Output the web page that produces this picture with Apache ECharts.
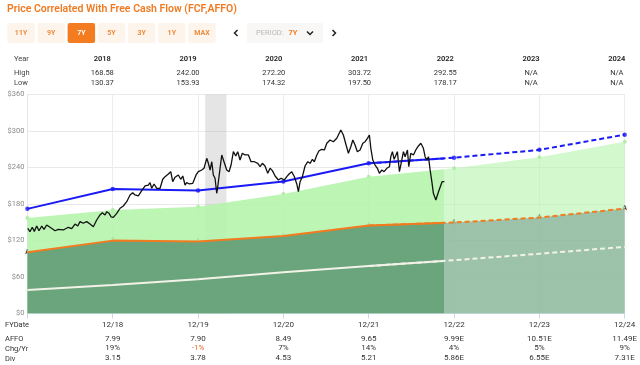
<!DOCTYPE html>
<html><head><meta charset="utf-8">
<script src="https://cdn.jsdelivr.net/npm/echarts@6/dist/echarts.min.js"></script>
<style>html,body{margin:0;padding:0;background:#fff}#c{width:640px;height:365px}</style>
</head><body><div id="c"></div>
<script>
// ---- data ----
// x position in years after FY end 12/17
const fyT = [0, 1, 2, 3, 4, 5, 6, 7];
const fyLabels = ['', '12/18', '12/19', '12/20', '12/21', '12/22', '12/23', '12/24'];
const affoLabels = ['', '7.99', '7.90', '8.49', '9.65', '9.99E', '10.51E', '11.49E'];
const chgLabels = ['', '19%', '-1%', '7%', '14%', '4%', '5%', '9%'];
const divLabels = ['', '3.15', '3.78', '4.53', '5.21', '5.86E', '6.55E', '7.31E'];
const tableYears = ['2018', '2019', '2020', '2021', '2022', '2023', '2024'];
const tableHigh = ['168.58', '242.00', '272.20', '303.72', '292.55', 'N/A', 'N/A'];
const tableLow = ['130.37', '153.93', '174.32', '197.50', '178.17', 'N/A', 'N/A'];
const normalLine = [172, 204.5, 202, 217, 247, 256, 269, 294];      // blue
const greenTop = [157, 170, 175.6, 196.4, 225, 238.6, 257, 282.4];  // light green area top
const affoLine = [100.8, 119.8, 118.5, 127.4, 144.6, 149.6, 157.7, 172.4]; // orange
const divLine = [38.6, 47, 56.5, 67.8, 78, 87.6, 98.2, 109.5];      // white
const recession = [2.083, 2.333];
const priceData = [
[0.004,140],[0.030,134.5],[0.057,141.7],[0.081,135],[0.109,143.8],[0.136,136],[0.168,143.8],[0.195,138.4],
[0.226,145.5],[0.265,141.7],[0.324,136],[0.362,138.4],[0.421,137.3],[0.479,141.7],[0.519,139.4],[0.558,147],
[0.590,143.8],[0.617,151],[0.655,148.3],[0.695,151],[0.734,147],[0.773,142.7],[0.812,153.7],[0.851,162],
[0.878,165.7],[0.910,162],[0.930,167.4],[0.957,164.7],[0.980,159],[1.007,158],[1.047,164.7],[1.086,173],
[1.124,176.7],[1.164,183.8],[1.203,194.8],[1.234,198.6],[1.261,194.8],[1.300,193.2],[1.340,201.9],[1.379,209.6],
[1.417,211.2],[1.437,215],[1.457,205.8],[1.484,212.9],[1.516,205.8],[1.555,205.8],[1.586,220.6],[1.613,224.9],
[1.652,229.3],[1.680,233.1],[1.703,216.7],[1.730,223.9],[1.769,227.7],[1.797,220.6],[1.821,226],[1.848,211.2],
[1.867,215],[1.898,212.9],[1.938,214],[1.953,211.2],[1.977,227.7],[2.003,233.1],[2.043,235.9],[2.070,238.7],
[2.102,255.1],[2.121,246.9],[2.141,235.9],[2.161,249.5],[2.179,227.7],[2.199,222.3],[2.219,197.6],[2.231,208.4],
[2.258,238.7],[2.278,260.6],[2.308,247.9],[2.336,235.9],[2.363,233.1],[2.387,244.1],[2.414,266],[2.442,258.9],
[2.465,266],[2.492,252.3],[2.519,263.4],[2.551,260.6],[2.590,260.6],[2.621,249.5],[2.660,249.5],[2.700,246.9],
[2.727,241.3],[2.754,246.9],[2.785,242.5],[2.817,230.5],[2.844,238.7],[2.871,234.8],[2.903,226],[2.941,219.5],
[2.973,222.3],[3.012,219.5],[3.040,224.9],[3.067,229.3],[3.098,233.1],[3.129,224.9],[3.157,212.9],[3.176,200.2],
[3.196,216.7],[3.223,224.9],[3.254,242.5],[3.286,249.5],[3.313,246.9],[3.340,253.5],[3.363,249.5],[3.392,260.6],
[3.418,267.6],[3.450,269.9],[3.481,268.8],[3.509,279.8],[3.547,285.2],[3.586,282.4],[3.626,288],[3.645,285.2],
[3.673,301.7],[3.703,293.4],[3.735,277],[3.762,263.4],[3.790,274.2],[3.814,285.2],[3.840,277],[3.867,266],
[3.899,268.8],[3.931,279.8],[3.958,282.4],[3.985,288],[4.008,293.4],[4.025,271.6],[4.048,252.3],[4.075,244.1],
[4.102,238.7],[4.125,230.5],[4.154,235.9],[4.180,233.1],[4.212,238.7],[4.243,241.3],[4.259,257.8],[4.278,266],
[4.298,253.5],[4.321,252.3],[4.336,266],[4.360,233.1],[4.380,246.9],[4.407,266],[4.427,257.8],[4.454,268.8],
[4.470,241.3],[4.493,263.4],[4.524,260.6],[4.556,269.9],[4.583,275.4],[4.611,279.8],[4.641,271.6],[4.661,257.8],
[4.681,252.3],[4.700,257.8],[4.720,235.9],[4.740,216.7],[4.758,197.6],[4.787,186.6],[4.805,189.4],[4.825,203],
[4.845,205.8],[4.860,216.7],[4.876,218.4],[4.887,216.7]
];

// ---- build ----
const splitT = priceData[priceData.length - 1][0];
const pts = (arr, from, to) => fyT.slice(from, to).map((t, i) => [t, arr[from + i]]);

const ORANGE = '#f27b1f', BLUE = '#1a1af5', WHITE = '#f2f2e8';
const FONT = 'Roboto, "Liberation Sans", sans-serif';

function vm(idx, c1, c2) {
  return { type: 'piecewise', show: false, dimension: 0, seriesIndex: idx,
    pieces: [{ gte: -10, lte: splitT, color: c1 }, { gt: splitT, lte: 20, color: c2 }] };
}

const lineBase = { type: 'line', showSymbol: false, symbol: 'none', silent: true };

const series = [
  Object.assign({}, lineBase, { name: 'light', data: pts(greenTop, 0, 8),
    lineStyle: { width: 0 }, areaStyle: { opacity: 1 },
    markArea: { silent: true, itemStyle: { color: 'rgba(160,160,160,0.28)' },
      data: [[{ xAxis: recession[0] }, { xAxis: recession[1] }]] } }),
  Object.assign({}, lineBase, { name: 'dark', data: pts(affoLine, 0, 8),
    lineStyle: { width: 0 }, areaStyle: { opacity: 1 } }),
  Object.assign({}, lineBase, { data: pts(divLine, 0, 6), lineStyle: { width: 2 } }),
  Object.assign({}, lineBase, { data: pts(divLine, 4, 8), lineStyle: { width: 2, color: WHITE, type: [5, 3] } }),
  Object.assign({}, lineBase, { data: pts(affoLine, 0, 6), lineStyle: { width: 2 } }),
  Object.assign({}, lineBase, { data: pts(affoLine, 4, 8), lineStyle: { width: 2, color: ORANGE, type: [5, 3] } }),
  Object.assign({}, lineBase, { data: pts(normalLine, 0, 6), lineStyle: { width: 2 } }),
  Object.assign({}, lineBase, { data: pts(normalLine, 4, 8), lineStyle: { width: 2, color: BLUE, type: [5, 3] } }),
  Object.assign({}, lineBase, { data: priceData, lineStyle: { width: 1.3, color: '#111' }, itemStyle: { color: '#111' } }),
  { type: 'scatter', silent: true, data: pts(greenTop, 0, 8), symbolSize: 4, itemStyle: { color: '#a3ea95' } },
  { type: 'scatter', silent: true, data: pts(divLine, 0, 8), symbolSize: 4, itemStyle: { color: '#f4f4ec' } },
  { type: 'scatter', silent: true, data: pts(affoLine, 0, 8), symbol: 'rect', symbolSize: [6.5, 7],
    itemStyle: { color: '#f2f2f2' },
    label: { show: true, position: 'inside', formatter: 'A', fontSize: 6.5, fontWeight: 'bold', color: '#111', fontFamily: FONT } },
  { type: 'scatter', silent: true, data: pts(normalLine, 0, 8), symbolSize: 4.5, itemStyle: { color: BLUE } }
];

const visualMap = [
  vm(0, 'rgba(182,244,173,0.9)', 'rgba(182,244,173,0.6)'),
  vm(1, 'rgba(97,156,118,0.9)', 'rgba(133,172,155,0.7)'),
  vm(2, WHITE, 'rgba(0,0,0,0)'),
  vm(4, ORANGE, 'rgba(0,0,0,0)'),
  vm(6, BLUE, 'rgba(0,0,0,0)')
];

function rowAxis(labels, offset, rich) {
  return { type: 'value', gridIndex: 0, position: 'bottom', offset: offset, min: 0, max: 7, interval: 1,
    axisLine: { show: false }, axisTick: { show: false }, splitLine: { show: false },
    axisLabel: { show: true, margin: 7, fontSize: 8, color: '#333', fontFamily: FONT,
      showMinLabel: true, showMaxLabel: true, rich: rich,
      formatter: v => { const s = labels[Math.round(v)] || ''; return (rich && s.charAt(0) === '-') ? '{neg|' + s + '}' : s; } } };
}

// graphics: header, buttons, table
const graphic = [];
graphic.push({ type: 'text', left: 7, top: 4, style: { text: 'Price Correlated With Free Cash Flow (FCF,AFFO)',
  fill: '#f07a22', font: '600 10.5px ' + FONT } });
const buttons = ['11Y', '9Y', '7Y', '5Y', '3Y', '1Y', 'MAX'];
buttons.forEach((b, i) => {
  const x = 7.3 + i * 30.15, act = b === '7Y';
  graphic.push({ type: 'rect', shape: { x: x, y: 23, width: 27.5, height: 20, r: 2 },
    style: { fill: act ? '#f47c20' : '#fdf4ec' } });
  graphic.push({ type: 'text', x: x + 13.75, y: 33, style: { text: b, fill: act ? '#fff' : '#f08a3c',
    font: 'bold 7px ' + FONT, align: 'center', verticalAlign: 'middle' } });
});
graphic.push({ type: 'polyline', shape: { points: [[237.5, 30], [234.5, 33], [237.5, 36]] }, style: { stroke: '#222', lineWidth: 1.5, fill: null } });
graphic.push({ type: 'rect', shape: { x: 247, y: 23, width: 76, height: 20, r: 2 }, style: { fill: '#f9f7f5' } });
graphic.push({ type: 'text', x: 256, y: 33, style: { text: 'PERIOD:', fill: '#b8b8b8', font: '7.5px ' + FONT, verticalAlign: 'middle' } });
graphic.push({ type: 'text', x: 288.5, y: 33, style: { text: '7Y', fill: '#f47c20', font: 'bold 7.5px ' + FONT, verticalAlign: 'middle' } });
graphic.push({ type: 'polyline', shape: { points: [[307, 31.5], [310, 34.5], [313, 31.5]] }, style: { stroke: '#222', lineWidth: 1.5, fill: null } });
graphic.push({ type: 'polyline', shape: { points: [[332.5, 30], [335.5, 33], [332.5, 36]] }, style: { stroke: '#222', lineWidth: 1.5, fill: null } });
[['Year', 59.3], ['High', 72.7], ['Low', 82.7]].forEach(r => {
  graphic.push({ type: 'text', x: 14, y: r[1], style: { text: r[0], fill: '#444', font: '7.5px ' + FONT, verticalAlign: 'middle' } });
});
tableYears.forEach((y, i) => {
  const x = 102.3 + i * 85.75;
  graphic.push({ type: 'text', x: x, y: 59.3, style: { text: y, fill: '#222', font: '600 7.5px ' + FONT, align: 'center', verticalAlign: 'middle' } });
  graphic.push({ type: 'text', x: x, y: 72.7, style: { text: tableHigh[i], fill: '#333', font: '7.5px ' + FONT, align: 'center', verticalAlign: 'middle' } });
  graphic.push({ type: 'text', x: x, y: 82.7, style: { text: tableLow[i], fill: '#333', font: '7.5px ' + FONT, align: 'center', verticalAlign: 'middle' } });
});
[['FYDate', 325.3], ['AFFO', 339], ['Chg/Yr', 348.7], ['Div', 358.7]].forEach(r => {
  graphic.push({ type: 'text', x: 5, y: r[1], style: { text: r[0], fill: '#333', font: '7.5px ' + FONT, verticalAlign: 'middle' } });
});

const chart = echarts.init(document.getElementById('c'));
chart.setOption({
  animation: false,
  backgroundColor: '#fff',
  textStyle: { fontFamily: FONT },
  grid: { left: 27.4, right: 15, top: 94.5, bottom: 51.5, containLabel: false },
  visualMap: visualMap,
  xAxis: [
    { type: 'value', min: 0, max: 7, interval: 1,
      axisLine: { show: true, lineStyle: { color: '#ccd6eb' } },
      axisTick: { show: true, length: 5, lineStyle: { color: '#ccd6eb' } },
      splitLine: { show: true, lineStyle: { color: '#ececec' } },
      axisLabel: { margin: 7, fontSize: 8, color: '#333', showMinLabel: true, showMaxLabel: true,
        formatter: v => fyLabels[Math.round(v)] || '' } },
    rowAxis(affoLabels, 14),
    rowAxis(chgLabels, 23.7, { neg: { color: '#e8642c', fontSize: 8 } }),
    rowAxis(divLabels, 33.4)
  ],
  yAxis: { type: 'value', min: 0, max: 360, interval: 60,
    axisLine: { show: true, lineStyle: { color: '#e2e7ef' } },
    axisTick: { show: false },
    splitLine: { show: true, lineStyle: { color: '#e9e9e9' } },
    axisLabel: { margin: 3, fontSize: 7.5, color: '#8a8a8a', formatter: v => '$' + v } },
  series: series,
  graphic: graphic
});
</script>
</body></html>
